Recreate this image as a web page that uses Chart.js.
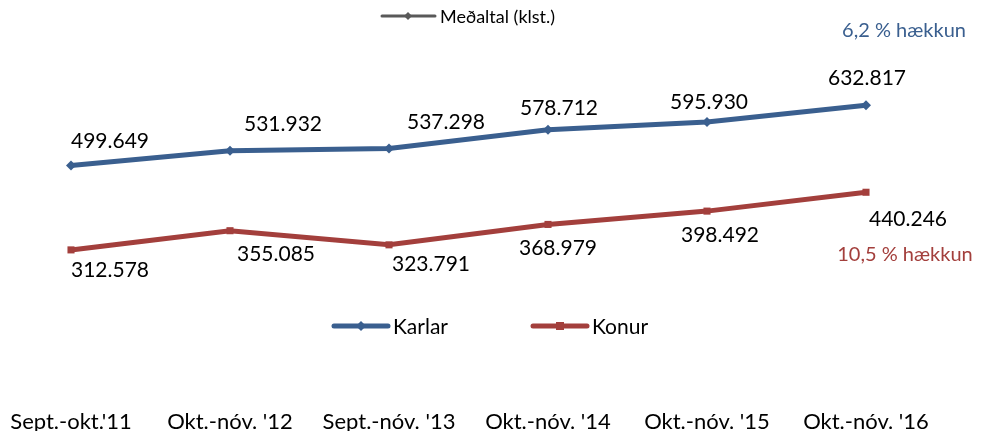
<!DOCTYPE html>
<html>
<head>
<meta charset="utf-8">
<script src="https://cdn.jsdelivr.net/npm/chart.js"></script>
<style>
  html, body { margin: 0; padding: 0; background: #fff; }
  #wrap { width: 987px; height: 434px; position: relative; }
</style>
</head>
<body>
<div id="wrap"><canvas id="line-chart" width="987" height="434"></canvas></div>
<script>
const labels = ["Sept.-okt.'11", "Okt.-nóv. '12", "Sept.-nóv. '13", "Okt.-nóv. '14", "Okt.-nóv. '15", "Okt.-nóv. '16"];
const karlar = [499.649, 531.932, 537.298, 578.712, 595.930, 632.817];
const konur = [312.578, 355.085, 323.791, 368.979, 398.492, 440.246];
const seriesNames = ["Karlar", "Konur"];
const legendTitle = "Meðaltal (klst.)";
const notes = ["6,2 % hækkun", "10,5 % hækkun"];

const BLUE = '#3A5F8F';
const RED = '#A33F3C';
const FONT = 'Lato, "Open Sans", sans-serif';

// nudges for the value labels, like they were dragged in the original
const karlarOff = [[39, -24], [53, -27], [57, -26], [11, -22], [2, -20], [1, -27]];
const konurOff = [[39, 20], [46, 24], [42, 19], [10, 24], [13, 24], [42, 27]];

function fmt(v) {
    return v.toFixed(3);
}

function drawLegendItem(ctx, x, y, color, marker, text, size) {
    ctx.strokeStyle = color;
    ctx.lineWidth = 5;
    ctx.lineCap = 'round';
    ctx.beginPath();
    ctx.moveTo(x, y);
    ctx.lineTo(x + 54, y);
    ctx.stroke();
    ctx.fillStyle = color;
    const mx = x + 27;
    if (marker === 'diamond') {
        ctx.beginPath();
        ctx.moveTo(mx, y - 5);
        ctx.lineTo(mx + 5, y);
        ctx.lineTo(mx, y + 5);
        ctx.lineTo(mx - 5, y);
        ctx.closePath();
        ctx.fill();
    } else {
        ctx.fillRect(mx - 4, y - 4, 8, 8);
    }
    ctx.fillStyle = '#000';
    ctx.font = size + 'px ' + FONT;
    ctx.textAlign = 'left';
    ctx.textBaseline = 'middle';
    ctx.fillText(text, x + 59, y + 1);
}

const extras = {
    id: 'extras',
    afterDatasetsDraw(chart) {
        const ctx = chart.ctx;
        ctx.save();
        ctx.font = '21px ' + FONT;
        ctx.fillStyle = '#000';
        ctx.textAlign = 'center';
        ctx.textBaseline = 'middle';
        [karlarOff, konurOff].forEach((offs, di) => {
            const meta = chart.getDatasetMeta(di);
            meta.data.forEach((pt, i) => {
                const v = chart.data.datasets[di].data[i];
                ctx.fillText(fmt(v), pt.x + offs[i][0], pt.y + offs[i][1]);
            });
        });

        // top legend
        ctx.lineWidth = 3;
        ctx.strokeStyle = '#595959';
        ctx.lineCap = 'round';
        ctx.beginPath();
        ctx.moveTo(382, 16);
        ctx.lineTo(435, 16);
        ctx.stroke();
        ctx.fillStyle = '#595959';
        ctx.beginPath();
        ctx.moveTo(408, 12);
        ctx.lineTo(412, 16);
        ctx.lineTo(408, 20);
        ctx.lineTo(404, 16);
        ctx.closePath();
        ctx.fill();
        ctx.fillStyle = '#000';
        ctx.font = '18px ' + FONT;
        ctx.textAlign = 'left';
        ctx.fillText(legendTitle, 440, 17);

        // bottom legend
        drawLegendItem(ctx, 334, 326, BLUE, 'diamond', seriesNames[0], 21);
        drawLegendItem(ctx, 533, 326, RED, 'square', seriesNames[1], 21);

        // growth notes
        ctx.font = '20px ' + FONT;
        ctx.textAlign = 'center';
        ctx.textBaseline = 'middle';
        ctx.fillStyle = BLUE;
        ctx.fillText(notes[0], 904, 31);
        ctx.fillStyle = RED;
        ctx.fillText(notes[1], 905, 255);
        ctx.restore();
    }
};

const ctx = document.getElementById('line-chart');

new Chart(ctx, {
    type: 'line',
    data: {
        labels: labels,
        datasets: [{
            label: seriesNames[0],
            data: karlar,
            borderColor: BLUE,
            backgroundColor: BLUE,
            borderWidth: 5,
            pointStyle: 'rectRot',
            pointRadius: 5,
            pointBorderWidth: 0,
            tension: 0
        }, {
            label: seriesNames[1],
            data: konur,
            borderColor: RED,
            backgroundColor: RED,
            borderWidth: 5,
            pointStyle: 'rect',
            pointRadius: 5,
            pointBorderWidth: 0,
            tension: 0
        }]
    },
    options: {
        responsive: false,
        animation: false,
        devicePixelRatio: 1,
        layout: {
            padding: {left: 71, right: 121, top: 75, bottom: 3}
        },
        plugins: {
            legend: {display: false},
            tooltip: {enabled: false}
        },
        scales: {
            y: {
                display: false,
                min: 0,
                max: 700
            },
            x: {
                offset: false,
                grid: {display: false, drawTicks: false},
                border: {display: false},
                afterFit: (scale) => {
                    scale.height = 40;
                    scale.paddingLeft = 0;
                    scale.paddingRight = 0;
                },
                ticks: {
                    color: '#000',
                    font: {family: FONT, size: 22},
                    padding: 18,
                    maxRotation: 0,
                    autoSkip: false
                }
            }
        }
    },
    plugins: [extras]
});
</script>
</body>
</html>
